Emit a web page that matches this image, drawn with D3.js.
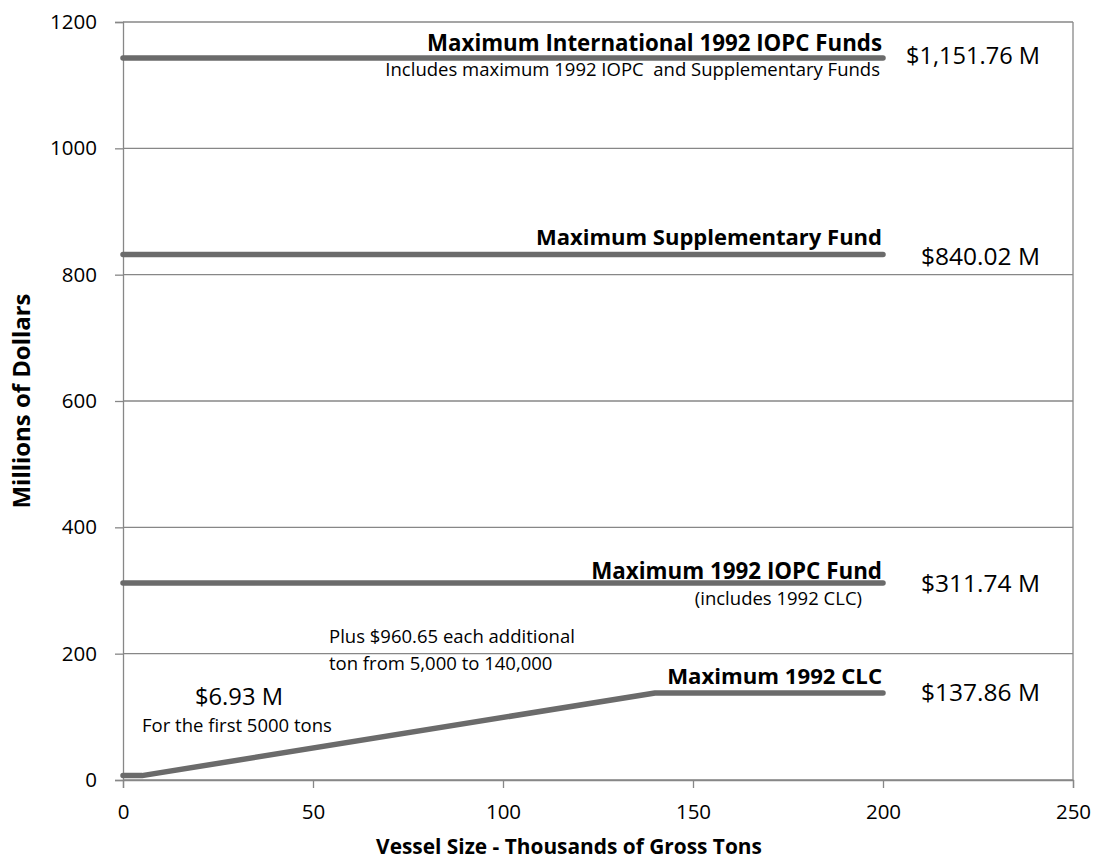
<!DOCTYPE html>
<html lang="en">
<head>
    <meta charset="UTF-8">
    <title>Vessel size vs. compensation limits</title>
    <style>
        body { margin: 0; background: #fff; }
        svg { display: block; font-family: "Open Sans", Lato, sans-serif; }
        .tick text { fill: #000; }
    </style>
</head>
<body>
    <div id="chart"></div>
    <script src="https://d3js.org/d3.v7.min.js"></script>
    <script>
        const width = 1095;
        const height = 867;
        const margin = { top: 22, right: 22, bottom: 87, left: 123 };

        // data
        const xTicks = [0, 50, 100, 150, 200, 250];
        const yTicks = [0, 200, 400, 600, 800, 1000, 1200];
        const clcTons = [0, 5, 140, 200];
        const clcValues = [6.93, 6.93, 137.86, 137.86];
        const flatTons = [0, 200];
        const iopcValues = [311.74, 311.74];
        const suppValues = [832, 832];
        const intlValues = [1143, 1143];
        const labelText = ['$1,151.76 M', '$840.02 M', '$311.74 M', '$137.86 M'];

        const svg = d3.select('#chart')
            .append('svg')
            .attr('width', width)
            .attr('height', height);

        const x = d3.scaleLinear().domain([0, 250]).range([margin.left, width - margin.right]);
        const y = d3.scaleLinear().domain([0, 1200]).range([height - margin.bottom, margin.top]);

        const gridColor = '#878787';

        // scale a text's font size so it spans the given width
        function fit(sel, w) {
            sel.each(function () {
                const len = this.getComputedTextLength();
                const size = parseFloat(d3.select(this).attr('font-size'));
                d3.select(this).attr('font-size', (size * w / len).toFixed(2));
            });
        }

        // horizontal gridlines
        svg.append('g').selectAll('line').data(yTicks).join('line')
            .attr('x1', x(0)).attr('x2', x(250))
            .attr('y1', d => y(d)).attr('y2', d => y(d))
            .attr('stroke', gridColor).attr('stroke-width', 1.3);

        // right border
        svg.append('line')
            .attr('x1', x(250)).attr('x2', x(250))
            .attr('y1', y(1200)).attr('y2', y(0))
            .attr('stroke', gridColor).attr('stroke-width', 1.3);

        // axes
        const yAxis = d3.axisLeft(y).tickValues(yTicks).tickSize(8).tickPadding(18).tickFormat(d3.format('d'));
        const xAxis = d3.axisBottom(x).tickValues(xTicks).tickSize(8).tickPadding(16).tickFormat(d3.format('d'));

        svg.append('g').attr('transform', `translate(${x(0)},0)`).call(yAxis)
            .attr('font-family', null)
            .call(g => g.selectAll('path, line').attr('stroke', gridColor).attr('stroke-width', 1.3))
            .call(g => g.selectAll('text').attr('font-size', 20.5));
        svg.append('g').attr('transform', `translate(0,${y(0)})`).call(xAxis)
            .attr('font-family', null)
            .call(g => g.selectAll('path, line').attr('stroke', gridColor).attr('stroke-width', 1.3))
            .call(g => g.selectAll('text').attr('font-size', 20.5));

        // axis titles
        svg.append('text')
            .attr('x', 569).attr('y', 854)
            .attr('text-anchor', 'middle').attr('font-weight', 'bold').attr('font-size', 17)
            .text('Vessel Size - Thousands of Gross Tons')
            .call(fit, 386);
        svg.append('text')
            .attr('transform', `translate(30,${(y(0) + y(1200)) / 2}) rotate(-90)`)
            .attr('text-anchor', 'middle').attr('font-weight', 'bold').attr('font-size', 17)
            .text('Millions of Dollars')
            .call(fit, 215);

        // series lines
        const line = d3.line().x(d => x(d[0])).y(d => y(d[1]));
        const series = [
            d3.zip(flatTons, intlValues),
            d3.zip(flatTons, suppValues),
            d3.zip(flatTons, iopcValues),
            d3.zip(clcTons, clcValues)
        ];
        svg.append('g').selectAll('path').data(series).join('path')
            .attr('d', line)
            .attr('fill', 'none')
            .attr('stroke', '#6b6b6b')
            .attr('stroke-width', 5.5)
            .attr('stroke-linecap', 'round')
            .attr('stroke-linejoin', 'round');

        // value labels to the right of each line
        const labelValues = [intlValues[0], suppValues[0], iopcValues[0], clcValues[3]];
        const labelDy = [6, 10.5, 9, 8];
        svg.append('g').selectAll('text').data(labelValues).join('text')
            .attr('x', (d, i) => i === 0 ? x(200) + 23 : x(200) + 38)
            .attr('y', (d, i) => y(d) + labelDy[i])
            .attr('font-size', 19)
            .text((d, i) => labelText[i])
            .each(function (d, i) { d3.select(this).call(fit, i === 0 ? 134 : 119); });

        // annotations: text, x, baseline, width, bold, anchor
        const small = 18.5;
        const notes = [
            ['Maximum International 1992 IOPC Funds', x(200) - 1, y(intlValues[0]) - 7, 455, true, 'end'],
            ['Includes maximum 1992 IOPC  and Supplementary Funds', x(200) - 3, y(intlValues[0]) + 18, 0, false, 'end'],
            ['Maximum Supplementary Fund', x(200) - 1, y(suppValues[0]) - 9, 346, true, 'end'],
            ['Maximum 1992 IOPC Fund', x(200) - 1, y(iopcValues[0]) - 4, 291, true, 'end'],
            ['(includes 1992 CLC)', x(200) - 21, y(iopcValues[0]) + 22, 0, false, 'end'],
            ['Plus $960.65 each additional', 329, 643, 0, false, 'start'],
            ['ton from 5,000 to 140,000', 329, 670, 0, false, 'start'],
            ['Maximum 1992 CLC', x(200) - 1, y(clcValues[3]) - 9, 215, true, 'end'],
            ['$6.93 M', 195, 705, 88, false, 'start'],
            ['For the first 5000 tons', 142, 732, 0, false, 'start']
        ];
        notes.forEach(n => {
            const t = svg.append('text')
                .attr('x', n[1]).attr('y', n[2])
                .attr('font-size', n[3] ? 18 : small)
                .attr('font-weight', n[4] ? 'bold' : 'normal')
                .attr('text-anchor', n[5])
                .style('white-space', 'pre')
                .text(n[0]);
            if (n[3]) t.call(fit, n[3]);
        });
    </script>
</body>
</html>
